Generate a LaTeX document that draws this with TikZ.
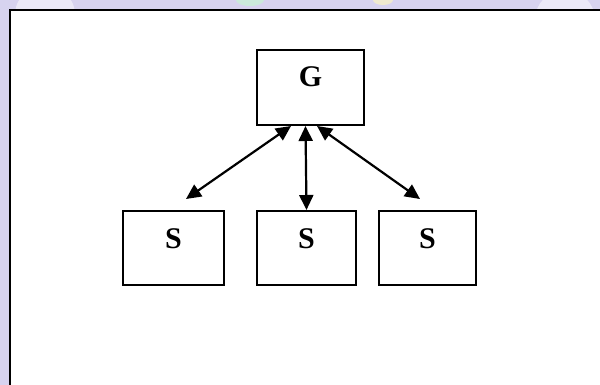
\documentclass[tikz,border=0pt]{standalone}
\usepackage{fontspec}
\setmainfont{Liberation Serif}
\usetikzlibrary{arrows.meta,calc}
\definecolor{bglav}{RGB}{215,211,239}
\definecolor{wmgreen}{RGB}{200,240,215}
\definecolor{wmyellow}{RGB}{245,240,200}
\tikzset{
  box/.style={draw=black, line width=2pt, fill=white, inner sep=0pt,
    font=\fontsize{30}{30}\selectfont\bfseries, minimum height=74pt},
  link/.style={line width=2.2pt, {Triangle[length=15pt,width=14pt]}-{Triangle[length=15pt,width=14pt]}}
}
\begin{document}
\begin{tikzpicture}[x=1pt,y=-1pt]
\useasboundingbox (0,0) rectangle (600,385);
\fill[bglav] (0,0) rectangle (600,385);
% faint watermark in the margins
\fill[white, opacity=0.5] (45,15) circle (30);
\fill[wmgreen, opacity=0.8] (250,0) ellipse (14 and 6);
\fill[wmyellow, opacity=0.8] (383,0) ellipse (10 and 5);
\fill[white, opacity=0.5] (565,20) circle (30);
% frame
\draw[line width=2.2pt, fill=white] (10,10) rectangle (615,400);
% nodes
\node[box, minimum width=107pt, text height=37pt, text depth=38pt] (G) at (310.5,87.5) {G};
\node[box, minimum width=101pt, text height=37pt, text depth=37pt] (S1) at (173.5,248) {S};
\node[box, minimum width=99pt, text height=37pt, text depth=37pt] (S2) at (306.5,248) {S};
\node[box, minimum width=97pt, text height=37pt, text depth=37pt] (S3) at (427.5,248) {S};
% connectors
\draw[link] ($(G.south)+(-19.5,0)$) -- ($(S1.north)+(12.5,-11)$);
\draw[link] ($(G.south)+(-5,0)$) -- (S2.north);
\draw[link] ($(G.south)+(6.5,0)$) -- ($(S3.north)+(-7.5,-11)$);
\end{tikzpicture}
\end{document}
